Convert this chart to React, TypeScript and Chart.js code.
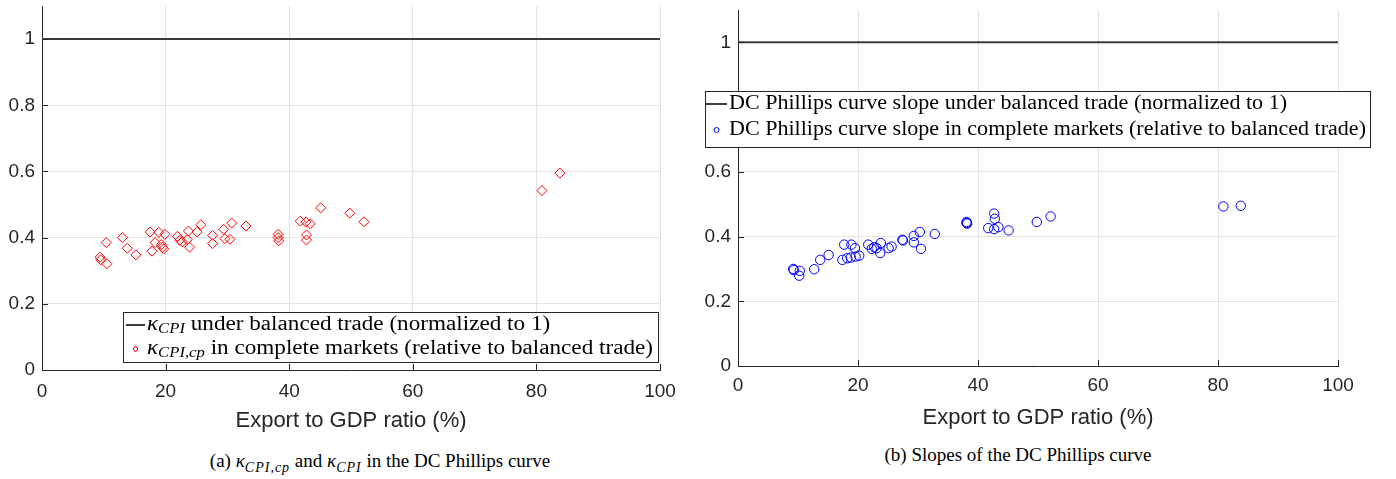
import React, { useEffect, useRef } from 'react';
import { Chart, registerables } from 'chart.js';
Chart.register(...registerables);

// ---------- data ----------
const exportA = [9.4, 9.5, 10.4, 10.5, 13.0, 13.8, 15.2, 17.5, 17.8, 18.3, 18.9, 19.3, 19.5, 19.7, 19.9, 21.9, 22.3, 22.7, 23.5, 23.7, 23.9, 25.1, 25.7, 27.6, 27.6, 29.4, 29.6, 30.4, 30.7, 33.0, 38.2, 38.2, 38.3, 41.8, 42.7, 43.4, 42.8, 42.8, 45.1, 49.8, 52.1, 80.9, 83.8];
const kappaCp = [0.341, 0.333, 0.385, 0.321, 0.40, 0.368, 0.348, 0.417, 0.359, 0.385, 0.416, 0.379, 0.371, 0.366, 0.41, 0.404, 0.392, 0.387, 0.394, 0.42, 0.371, 0.417, 0.439, 0.407, 0.382, 0.425, 0.397, 0.395, 0.444, 0.435, 0.41, 0.40, 0.39, 0.45, 0.447, 0.442, 0.408, 0.393, 0.49, 0.474, 0.448, 0.542, 0.595];
const exportB = [9.2, 9.3, 10.3, 10.2, 12.7, 13.7, 15.1, 17.7, 17.4, 18.2, 18.9, 18.8, 19.5, 19.6, 20.2, 21.7, 22.3, 22.7, 23.1, 23.8, 23.7, 25.1, 25.6, 27.4, 27.5, 29.3, 29.3, 30.3, 30.5, 32.8, 38.1, 38.1, 38.2, 42.7, 42.8, 41.7, 42.7, 43.4, 45.1, 49.8, 52.1, 80.9, 83.8];
const slopeCp = [0.300, 0.296, 0.294, 0.279, 0.299, 0.328, 0.343, 0.375, 0.328, 0.333, 0.375, 0.335, 0.364, 0.338, 0.341, 0.375, 0.362, 0.367, 0.364, 0.380, 0.349, 0.364, 0.369, 0.390, 0.388, 0.402, 0.382, 0.414, 0.362, 0.408, 0.442, 0.445, 0.44, 0.471, 0.455, 0.426, 0.423, 0.429, 0.419, 0.445, 0.462, 0.493, 0.495];
const balancedX = [0, 100];
const balancedY = [1, 1];
const xTicks = [0, 20, 40, 60, 80, 100];
const yTicks = [0, 0.2, 0.4, 0.6, 0.8, 1];
const xTitle = 'Export to GDP ratio (%)';

type Run = { t: string; it?: boolean; sub?: boolean };
const legendA: Run[][] = [
  [{ t: 'κ', it: true }, { t: 'CPI', it: true, sub: true }, { t: ' under balanced trade (normalized to 1)' }],
  [{ t: 'κ', it: true }, { t: 'CPI,cp', it: true, sub: true }, { t: ' in complete markets (relative to balanced trade)' }],
];
const legendB: Run[][] = [
  [{ t: 'DC Phillips curve slope under balanced trade (normalized to 1)' }],
  [{ t: 'DC Phillips curve slope in complete markets (relative to balanced trade)' }],
];

const SANS = '"Liberation Sans", Arial, Helvetica, sans-serif';
const SERIF = '"Liberation Serif", "Times New Roman", serif';
const AX = '#262626';
const GRID = '#e3e3e3';
const LINE = '#3c3c3c';
const CH = 440;

function runsWidth(ctx: CanvasRenderingContext2D, runs: Run[], size: number) {
  let w = 0;
  for (const r of runs) {
    const fs = r.sub ? size * 0.72 : size;
    ctx.font = `${r.it ? 'italic ' : ''}${fs}px ${SERIF}`;
    w += ctx.measureText(r.t).width;
  }
  return w;
}

function drawRuns(ctx: CanvasRenderingContext2D, runs: Run[], x: number, y: number, size: number) {
  let cx = x;
  for (const r of runs) {
    const fs = r.sub ? size * 0.72 : size;
    ctx.font = `${r.it ? 'italic ' : ''}${fs}px ${SERIF}`;
    ctx.fillText(r.t, cx, r.sub ? y + size * 0.22 : y);
    cx += ctx.measureText(r.t).width;
  }
}

function makePlugin(leg: any) {
  return {
    id: 'matlabExtras',
    afterDraw(chart: any) {
      const ctx: CanvasRenderingContext2D = chart.ctx;
      const { left, bottom } = chart.chartArea;
      const xs = chart.scales.x, ys = chart.scales.y;
      ctx.save();
      ctx.strokeStyle = AX;
      ctx.lineWidth = 1;
      xs.ticks.forEach((t: any) => {
        const px = Math.round(xs.getPixelForValue(t.value)) + 0.5;
        ctx.beginPath(); ctx.moveTo(px, bottom); ctx.lineTo(px, bottom - 6); ctx.stroke();
      });
      ys.ticks.forEach((t: any) => {
        const py = Math.round(ys.getPixelForValue(t.value)) + 0.5;
        ctx.beginPath(); ctx.moveTo(left, py); ctx.lineTo(left + 6, py); ctx.stroke();
      });
      // legend box
      const [bx0, by0, bx1, by1] = leg.box;
      ctx.fillStyle = '#ffffff';
      ctx.fillRect(bx0, by0, bx1 - bx0, by1 - by0);
      ctx.strokeStyle = AX;
      ctx.strokeRect(bx0 + 0.5, by0 + 0.5, bx1 - bx0, by1 - by0);
      ctx.strokeStyle = LINE;
      ctx.lineWidth = 2;
      ctx.beginPath(); ctx.moveTo(leg.sampleX[0], leg.rows[0]); ctx.lineTo(leg.sampleX[1], leg.rows[0]); ctx.stroke();
      const mx = (leg.sampleX[0] + leg.sampleX[1]) / 2;
      ctx.strokeStyle = leg.color;
      ctx.lineWidth = 1;
      ctx.beginPath();
      if (leg.marker === 'diamond') {
        const r = 3;
        ctx.moveTo(mx, leg.rows[1] - r); ctx.lineTo(mx + r * 0.8, leg.rows[1]); ctx.lineTo(mx, leg.rows[1] + r); ctx.lineTo(mx - r * 0.8, leg.rows[1]); ctx.closePath();
      } else {
        ctx.arc(mx, leg.rows[1], 2.5, 0, Math.PI * 2);
      }
      ctx.stroke();
      // text, stretched horizontally to the reference width (wider math font)
      const maxW = Math.max(...leg.runs.map((r: Run[]) => runsWidth(ctx, r, leg.size)));
      const sx = (leg.textEnd - leg.textX) / maxW;
      ctx.fillStyle = '#000000';
      ctx.textBaseline = 'middle';
      ctx.textAlign = 'left';
      ctx.translate(leg.textX, 0);
      ctx.scale(sx, 1);
      leg.runs.forEach((runs: Run[], i: number) => drawRuns(ctx, runs, 0, leg.rows[i], leg.size));
      ctx.restore();
    },
  };
}

function buildConfig(px: number[], py: number[], cfg: any) {
  return {
    type: 'scatter',
    data: {
      datasets: [
        {
          type: 'line',
          data: balancedX.map((x, i) => ({ x, y: balancedY[i] })),
          borderColor: LINE,
          borderWidth: 2,
          pointRadius: 0,
          showLine: true,
          fill: false,
        },
        {
          data: px.map((x, i) => ({ x, y: py[i] })),
          pointStyle: cfg.pointStyle,
          pointRadius: cfg.pointRadius,
          borderColor: cfg.color,
          backgroundColor: 'rgba(0,0,0,0)',
          borderWidth: 1,
        },
      ],
    },
    options: {
      animation: false,
      responsive: false,
      events: [],
      layout: { padding: cfg.padding },
      plugins: { legend: { display: false }, tooltip: { enabled: false } },
      scales: {
        x: {
          type: 'linear', min: 0, max: 100,
          afterBuildTicks: (s: any) => { s.ticks = xTicks.map((v) => ({ value: v })); },
          afterFit: (s: any) => { s.height = cfg.xHeight; s.paddingLeft = 0; s.paddingRight = 0; },
          ticks: { font: { family: SANS, size: 19 }, color: AX, padding: cfg.xPad, maxRotation: 0, autoSkip: false, callback: (v: any) => String(Number(v)) },
          grid: { color: GRID, drawTicks: false },
          border: { display: true, color: AX, width: 1 },
          title: { display: true, text: xTitle, font: { family: SANS, size: 22 }, color: AX, padding: { top: 0, bottom: cfg.titlePad } },
        },
        y: {
          type: 'linear', min: 0, max: 1.1,
          afterBuildTicks: (s: any) => { s.ticks = yTicks.map((v) => ({ value: v })); },
          afterFit: (s: any) => { s.width = cfg.yWidth; s.paddingTop = 0; s.paddingBottom = 0; },
          ticks: { font: { family: SANS, size: 19 }, color: AX, padding: 7, autoSkip: false, callback: (v: any) => String(Number(v)) },
          grid: { color: GRID, drawTicks: false },
          border: { display: true, color: AX, width: 1 },
        },
      },
    },
    plugins: [makePlugin(cfg.legend)],
  };
}

function Panel({ left, width, px, py, cfg }: any) {
  const ref = useRef<HTMLCanvasElement | null>(null);
  useEffect(() => {
    const chart = new Chart(ref.current as HTMLCanvasElement, buildConfig(px, py, cfg) as any);
    return () => chart.destroy();
  }, []);
  return (
    <canvas ref={ref} width={width} height={CH}
      style={{ position: 'absolute', left, top: 0, width, height: CH, display: 'block' }} />
  );
}

const cfgA = {
  pointStyle: 'rectRot', pointRadius: 5, color: '#ff0000',
  padding: { top: 5, left: 0, right: 30, bottom: 0 }, xHeight: 70, yWidth: 42, xPad: 10, titlePad: 6,
  legend: { box: [123, 312, 658, 362], rows: [325, 349], sampleX: [126, 145], textX: 147, textEnd: 653, size: 20, runs: legendA, marker: 'diamond', color: '#ff0000' },
};
const cfgB = {
  pointStyle: 'circle', pointRadius: 4.7, color: '#0000ff',
  padding: { top: 10, left: 0, right: 58, bottom: 0 }, xHeight: 74, yWidth: 48, xPad: 8, titlePad: 9,
  legend: { box: [15, 91, 680, 147], rows: [104, 130], sampleX: [16, 37], textX: 39, textEnd: 676, size: 20, runs: legendB, marker: 'circle', color: '#0000ff' },
};

export default function App() {
  const cap: React.CSSProperties = { position: 'absolute', top: 450, fontFamily: SERIF, fontSize: 19, color: '#000', textAlign: 'center', whiteSpace: 'nowrap' };
  const sub: React.CSSProperties = { fontSize: 14, letterSpacing: 1 };
  return (
    <div style={{ position: 'absolute', left: 0, top: 0, width: 1396, height: 479, background: '#fff', overflow: 'hidden' }}>
      <Panel left={0} width={690} px={exportA} py={kappaCp} cfg={cfgA} />
      <Panel left={690} width={706} px={exportB} py={slopeCp} cfg={cfgB} />
      <div style={{ ...cap, left: 80, width: 600 }}>
        (a) <i>κ</i><sub style={sub}><i>CPI,cp</i></sub> and <i>κ</i><sub style={sub}><i>CPI</i></sub> in the DC Phillips curve
      </div>
      <div style={{ ...cap, left: 718, width: 600, top: 444 }}>(b) Slopes of the DC Phillips curve</div>
    </div>
  );
}
